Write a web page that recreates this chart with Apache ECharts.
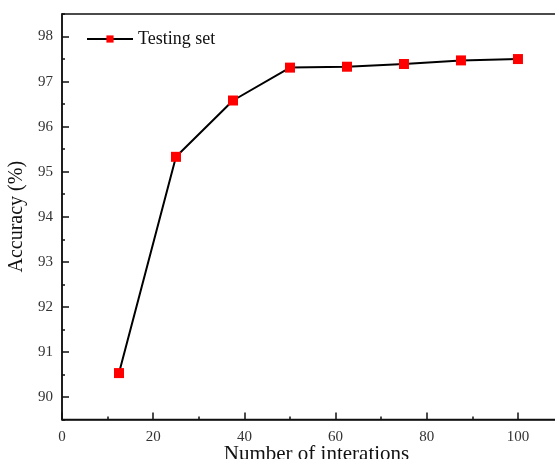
<!DOCTYPE html>
<html>
<head>
<meta charset="utf-8">
<script src="https://cdn.jsdelivr.net/npm/echarts@6/dist/echarts.min.js"></script>
<style>
  html, body { margin: 0; padding: 0; background: #fff; }
  #main { width: 555px; height: 459px; }
</style>
</head>
<body>
<div id="main"></div>
<script>
var iterations = [12.5, 25, 37.5, 50, 62.5, 75, 87.5, 100];
var accuracy = [90.53, 95.33, 96.58, 97.31, 97.33, 97.39, 97.47, 97.5];
var yTicks = [90, 91, 92, 93, 94, 95, 96, 97, 98];
var seriesName = "Testing set";

var chartDom = document.getElementById("main");
var myChart = echarts.init(chartDom);
var serif = "Liberation Serif";

var points = iterations.map(function (x, i) {
  return [x, accuracy[i]];
});

var option = {
  animation: false,
  backgroundColor: "#fff",
  grid: {
    left: 62,
    top: 14,
    right: -4,
    bottom: 39.5,
    outerBoundsMode: "none",
    containLabel: false,
    show: true,
    borderColor: "#111",
    borderWidth: 1.5,
  },
  legend: {
    left: 81,
    top: 25,
    itemWidth: 46,
    itemHeight: 9,
    itemGap: 4,
    textStyle: { fontFamily: serif, fontSize: 18, color: "#111" },
    data: [seriesName],
  },
  xAxis: {
    type: "value",
    min: 0,
    max: 109,
    interval: 20,
    name: "Number of interations",
    nameLocation: "middle",
    nameGap: 24,
    nameMoveOverlap: false,
    nameTextStyle: { fontFamily: serif, fontSize: 21, color: "#111", padding: [0, 0, 0, 12] },
    axisLine: { lineStyle: { color: "#111", width: 1.5 } },
    axisTick: { inside: true, length: 7, lineStyle: { color: "#111", width: 1.5 } },
    minorTick: { show: true, splitNumber: 2, length: 3, lineStyle: { color: "#111", width: 1.5 } },
    axisLabel: { fontFamily: serif, fontSize: 15, color: "#333", margin: 10, showMaxLabel: false },
    splitLine: { show: false },
  },
  yAxis: [
    {
      type: "value",
      min: 89.5,
      max: 98.5,
      name: "Accuracy (%)",
      nameLocation: "middle",
      nameGap: 32,
      nameTextStyle: { fontFamily: serif, fontSize: 20, color: "#111" },
      axisLine: { show: true, lineStyle: { color: "#111", width: 1.5 } },
      axisTick: { inside: true, length: 7, customValues: yTicks, lineStyle: { color: "#111", width: 1.5 } },
      axisLabel: {
        fontFamily: serif,
        fontSize: 15,
        color: "#333",
        margin: 9,
        customValues: yTicks,
      },
      splitLine: { show: false },
    },
    {
      // short half-step ticks
      type: "value",
      position: "left",
      min: 89.5,
      max: 98.5,
      interval: 0.5,
      axisLine: { show: false },
      axisTick: { inside: true, length: 3, lineStyle: { color: "#111", width: 1.5 } },
      axisLabel: { show: false },
      splitLine: { show: false },
    },
  ],
  series: [
    {
      name: seriesName,
      type: "line",
      data: points,
      symbol: "rect",
      symbolSize: 10,
      itemStyle: { color: "#ff0000" },
      lineStyle: { color: "#000", width: 2 },
    },
  ],
};

option && myChart.setOption(option);
</script>
</body>
</html>
